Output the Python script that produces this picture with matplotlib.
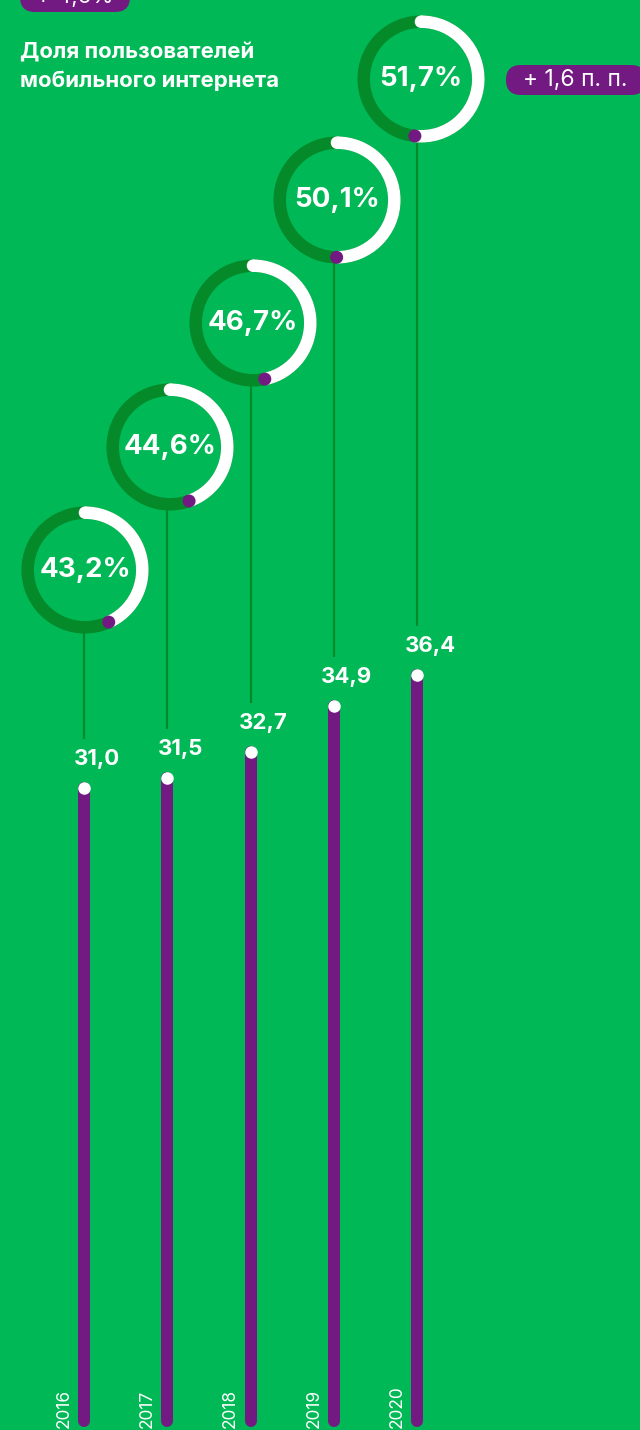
import numpy as np
import matplotlib
matplotlib.use("Agg")
import matplotlib.pyplot as plt
from matplotlib.patches import Arc, Circle, FancyBboxPatch

# ---- data ----
years = ["2016", "2017", "2018", "2019", "2020"]
users_mln = [31.0, 31.5, 32.7, 34.9, 36.4]
users_labels = ["31,0", "31,5", "32,7", "34,9", "36,4"]
share_pct = [43.2, 44.6, 46.7, 50.1, 51.7]
share_labels = ["43,2%", "44,6%", "46,7%", "50,1%", "51,7%"]
title_lines = ["Доля пользователей", "мобильного интернета"]
badge_right = "+ 1,6 п. п."
badge_left = "+ 4,6%"

# ---- style ----
GREEN = "#00b956"
DARK = "#058a2a"
PURPLE = "#731982"
WHITE = "#ffffff"
FONT = ["Inter", "DejaVu Sans"]

W, H = 640, 1430
fig = plt.figure(figsize=(W / 100, H / 100), dpi=100)
fig.patch.set_facecolor(GREEN)

# bar axes (data coordinates)
ax = fig.add_axes([0, 0, 1, 1])
ax.set_facecolor("none")
ax.axis("off")
x = np.arange(len(years))
ax.set_xlim(-84 / 83.25, (W - 84) / 83.25)
ax.set_ylim(7 / 20.935, 1437 / 20.935)

# decoration axes (pixel coordinates, origin bottom-left)
dx = fig.add_axes([0, 0, 1, 1])
dx.set_facecolor("none")
dx.axis("off")
dx.set_xlim(0, W)
dx.set_ylim(0, H)

px = 100 / 72.0  # pixels per point

# bars
bar_base = 0.75
ax.vlines(x, bar_base, users_mln, color=PURPLE, linewidth=12 / px,
          capstyle="round", zorder=2)
ax.scatter(x, users_mln, s=(12.5 / px) ** 2, color=WHITE, zorder=3,
           linewidths=0)
for i, (v, lab) in enumerate(zip(users_mln, users_labels)):
    ax.annotate(lab, xy=(i, v), xytext=(13, 29), textcoords="offset pixels",
                ha="center", va="center", color=WHITE, fontsize=16,
                fontweight="bold", family=FONT, zorder=4)
    ax.annotate(years[i], xy=(i, 0), xycoords=("data", "axes fraction"),
                xytext=(-20, 2), textcoords="offset pixels", rotation=90,
                ha="center", va="bottom", color=WHITE, fontsize=12.5,
                family=FONT, zorder=4)

# donuts
cxs = [85, 170, 253, 337, 421]
cys = [570, 447, 323, 200, 79]
R = 57.3
RING = 12.5
for i, (f, lab) in enumerate(zip(share_pct, share_labels)):
    cx, cy = cxs[i], H - cys[i]
    frac = f / 100.0
    dx.add_patch(Circle((cx, cy), R, fill=False, edgecolor=DARK,
                        linewidth=RING / px, zorder=2))
    dx.add_patch(Arc((cx, cy), 2 * R, 2 * R, theta1=90 - 360 * frac,
                     theta2=90, edgecolor=WHITE, linewidth=RING / px,
                     capstyle="butt", zorder=3))
    dx.add_patch(Circle((cx, cy + R), RING / 2, color=WHITE, zorder=3,
                        linewidth=0))
    ang = np.deg2rad(90 - 360 * frac)
    dx.add_patch(Circle((cx + R * np.cos(ang), cy + R * np.sin(ang)), 6.5,
                        color=PURPLE, zorder=4, linewidth=0))
    dx.text(cx, cy, lab, ha="center", va="center", color=WHITE,
            fontsize=20, fontweight="bold", family=FONT, zorder=5)
    # connector line
    bx, by = ax.transData.transform((i, users_mln[i]))
    dx.plot([bx, bx], [cy - R - RING / 2 + 1, by + 49], color=DARK,
            linewidth=1.6, zorder=1, solid_capstyle="butt")

# title
for k, (line, base) in enumerate(zip(title_lines, [58, 87])):
    dx.text(20, H - base, line, ha="left", va="baseline", color=WHITE,
            fontsize=16, fontweight="bold", family=FONT)

# badges
dx.add_patch(FancyBboxPatch((506 + 15, H - 95 + 15), 140 - 30, 0,
                            boxstyle="round,pad=15", facecolor=PURPLE,
                            edgecolor="none", zorder=3))
dx.text(575, H - 80, badge_right, ha="center", va="center", color=WHITE,
        fontsize=16.5, family=FONT, zorder=4)
dx.add_patch(FancyBboxPatch((20 + 15, H + 3), 110 - 30, 0,
                            boxstyle="round,pad=15", facecolor=PURPLE,
                            edgecolor="none", zorder=3))
dx.text(75, H + 3, badge_left, ha="center", va="center", color=WHITE,
        fontsize=16, family=FONT, zorder=4)

fig.savefig("out.png", dpi=100, facecolor=GREEN)
